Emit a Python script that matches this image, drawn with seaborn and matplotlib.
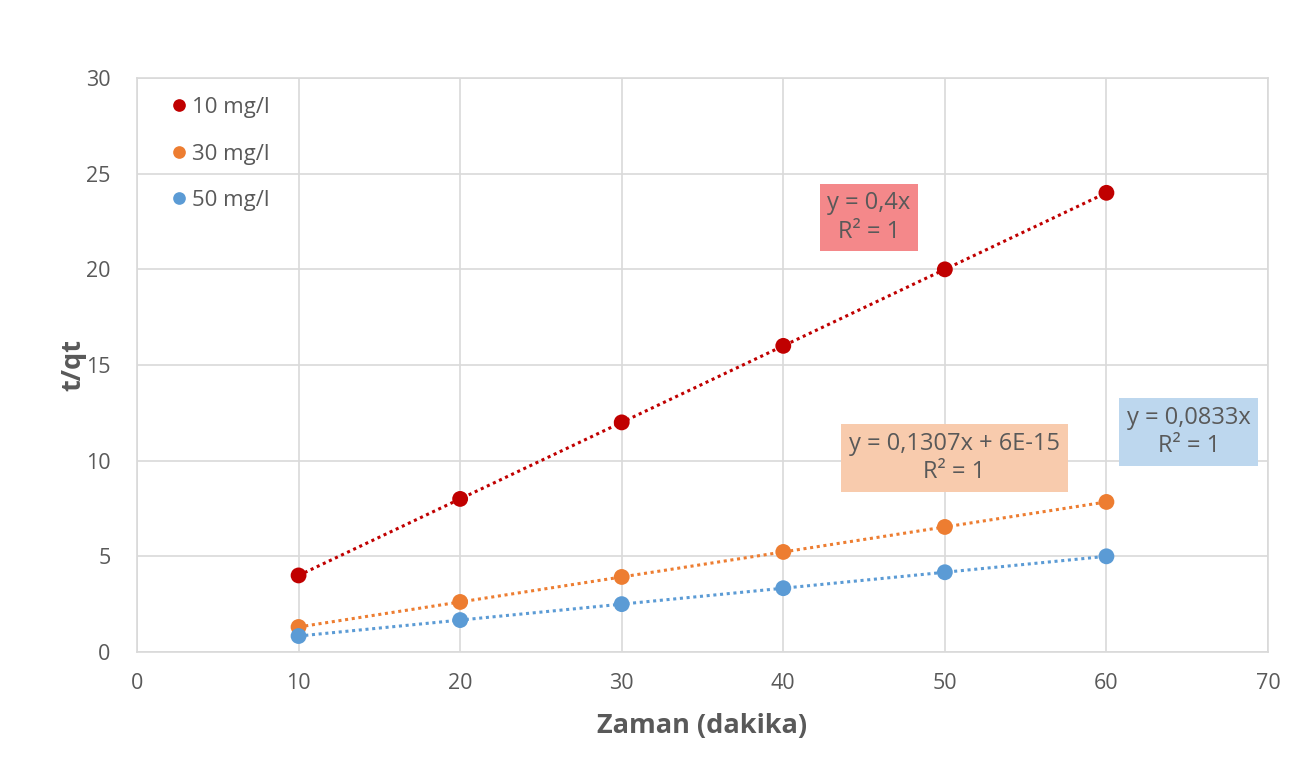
import matplotlib
matplotlib.use("Agg")
import matplotlib.pyplot as plt
import seaborn as sns
import pandas as pd

time_min = [10, 20, 30, 40, 50, 60]
c10 = [4.0, 8.0, 12.0, 16.0, 20.0, 24.0]
c30 = [1.307, 2.614, 3.921, 5.228, 6.535, 7.842]
c50 = [0.833, 1.667, 2.5, 3.333, 4.167, 5.0]
series_names = ["10 mg/l", "30 mg/l", "50 mg/l"]
colors = ["#C00000", "#ED7D31", "#5B9BD5"]
eq_texts = ["y = 0,4x\nR² = 1", "y = 0,1307x + 6E-15\nR² = 1", "y = 0,0833x\nR² = 1"]
eq_pos = [(45.3, 22.7), (50.6, 10.15), (65.1, 11.5)]
box_colors = ["#F4888A", "#F8CBAD", "#BDD7EE"]
xticks = [0, 10, 20, 30, 40, 50, 60, 70]
yticks = [0, 5, 10, 15, 20, 25, 30]

rows = []
for name, vals in zip(series_names, [c10, c30, c50]):
    for t, v in zip(time_min, vals):
        rows.append({"t": t, "v": v, "s": name})
df = pd.DataFrame(rows)

sns.set_style("white")
plt.rcParams["font.family"] = ["Open Sans", "DejaVu Sans"]
grey = "#595959"
gridc = "#D9D9D9"

fig = plt.figure(figsize=(13.11, 7.62), dpi=100)
ax = fig.add_axes([0.1045, 0.1444, 0.9672 - 0.1045, 0.8976 - 0.1444])

pal = dict(zip(series_names, colors))
for name in series_names:
    sub = df[df["s"] == name]
    sns.lineplot(data=sub, x="t", y="v", ax=ax, color=pal[name], linestyle=(0, (1, 1.2)),
                 linewidth=2.2, legend=False, zorder=3)
sns.scatterplot(data=df, x="t", y="v", hue="s", palette=pal, s=130, edgecolor="none",
                ax=ax, zorder=4)

for txt, (x, y), bc in zip(eq_texts, eq_pos, box_colors):
    ax.text(x, y, txt, ha="center", va="center", fontsize=17, color=grey,
            linespacing=1.25,
            bbox=dict(boxstyle="square,pad=0.32", facecolor=bc, edgecolor="none"), zorder=5)

ax.set_xlim(0, 70)
ax.set_ylim(0, 30)
ax.set_xticks(xticks)
ax.set_yticks(yticks)
ax.grid(True, color=gridc, linewidth=1.2)
ax.set_axisbelow(True)
for sp in ax.spines.values():
    sp.set_color(gridc)
    sp.set_linewidth(1.2)
ax.tick_params(axis="both", length=0, labelsize=15.5, colors=grey)
ax.tick_params(axis="y", pad=19)
ax.tick_params(axis="x", pad=15)
ax.set_xlabel("Zaman (dakika)", fontsize=19.5, fontweight="bold", color=grey, labelpad=14)
ax.set_ylabel("t/qt", fontsize=19.5, fontweight="bold", color=grey, labelpad=0)

leg = ax.legend(loc="upper left", bbox_to_anchor=(0.006, 0.99), frameon=False,
                fontsize=16, labelspacing=1.15, handletextpad=-0.45, markerscale=0.8,
                borderaxespad=0.2)
for t in leg.get_texts():
    t.set_color(grey)

fig.savefig("out.png", dpi=100, facecolor="white")
